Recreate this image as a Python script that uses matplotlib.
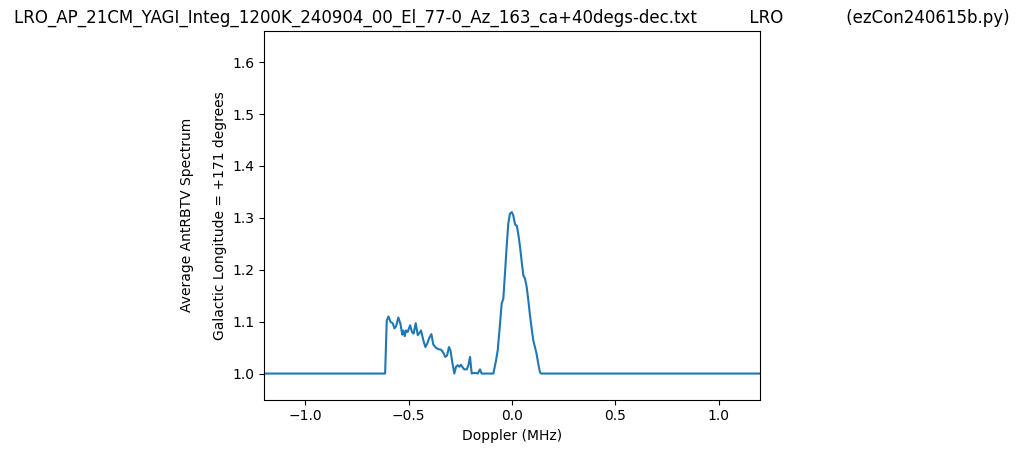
import numpy as np
import matplotlib
matplotlib.use('Agg')
import matplotlib.pyplot as plt

# Doppler (MHz) und Spektrum
doppler = [-1.2, -0.614, -0.606, -0.598, -0.587, -0.577, -0.569, -0.561, -0.550,
           -0.540, -0.531, -0.526, -0.519, -0.513, -0.505, -0.493, -0.484, -0.476,
           -0.466, -0.456, -0.448, -0.440, -0.429, -0.419, -0.410, -0.400, -0.390,
           -0.381, -0.369, -0.357, -0.343, -0.332, -0.323, -0.314, -0.305, -0.298,
           -0.289, -0.279, -0.271, -0.263, -0.255, -0.247, -0.239, -0.231, -0.219,
           -0.211, -0.203, -0.195, -0.187, -0.174, -0.166, -0.155, -0.147, -0.090,
           -0.077, -0.069, -0.058, -0.050, -0.042, -0.034, -0.026, -0.018, -0.010,
           -0.001, 0.006, 0.015, 0.023, 0.030, 0.039, 0.047, 0.055, 0.063, 0.071,
           0.079, 0.087, 0.095, 0.103, 0.111, 0.119, 0.127, 0.135, 0.140, 1.2]
spectrum = [1.0, 1.0, 1.102, 1.110, 1.099, 1.097, 1.087, 1.091, 1.108,
            1.096, 1.075, 1.083, 1.072, 1.083, 1.080, 1.093, 1.080, 1.077,
            1.097, 1.074, 1.078, 1.083, 1.064, 1.051, 1.058, 1.069, 1.076,
            1.056, 1.050, 1.047, 1.046, 1.040, 1.032, 1.035, 1.051, 1.045,
            1.022, 1.000, 1.013, 1.016, 1.013, 1.017, 1.012, 1.008, 1.008,
            1.016, 1.032, 1.000, 1.001, 1.001, 1.000, 1.008, 1.000, 1.000,
            1.026, 1.045, 1.096, 1.135, 1.144, 1.193, 1.244, 1.289, 1.308,
            1.311, 1.305, 1.287, 1.285, 1.270, 1.244, 1.215, 1.189, 1.183, 1.167,
            1.141, 1.112, 1.087, 1.064, 1.051, 1.038, 1.019, 1.003, 1.000, 1.0]

titleS = ('LRO_AP_21CM_YAGI_Integ_1200K_240904_00_El_77-0_Az_163_ca+40degs-dec.txt'
          '          LRO            (ezCon240615b.py)')

fig = plt.figure(figsize=(10.24, 4.53), dpi=100)
ax = fig.add_axes([264 / 1024, 1 - 399.5 / 453, 496 / 1024, 368.5 / 453])

ax.plot(doppler, spectrum)
ax.set_xlim(-1.2, 1.2)
ax.set_ylim(0.95, 1.66)
ax.set_title(titleS, fontsize=12)
ax.set_xlabel('Doppler (MHz)')
ax.set_ylabel('Average AntRBTV Spectrum\n\nGalactic Longitude = +171 degrees')

plt.savefig('out.png', dpi=100)
